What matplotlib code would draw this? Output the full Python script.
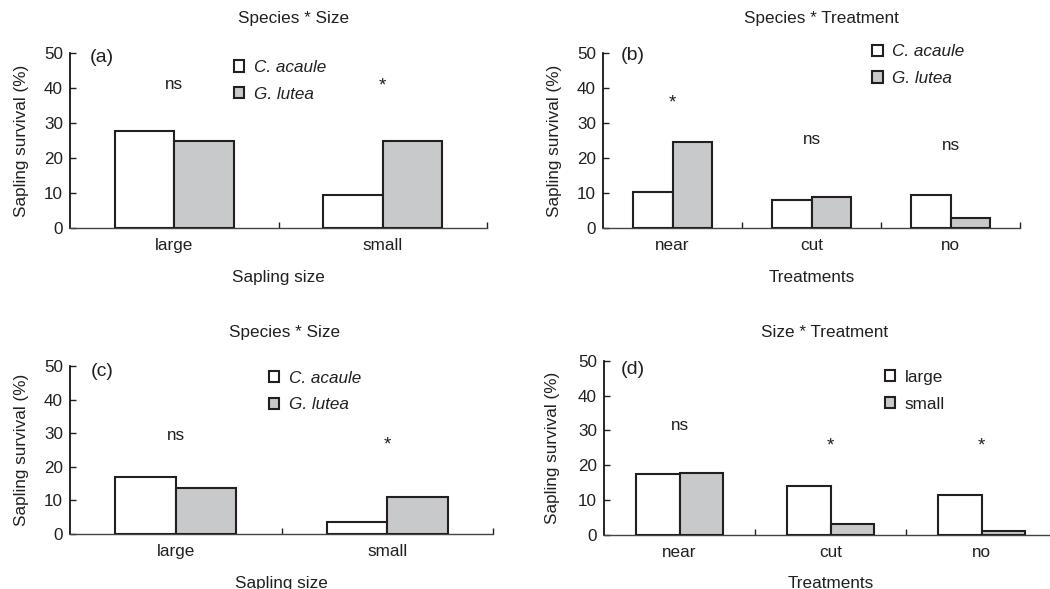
import numpy as np
import matplotlib
matplotlib.use('Agg')
import matplotlib.pyplot as plt
from matplotlib.patches import Patch

plt.rcParams['font.family'] = ['Liberation Sans', 'DejaVu Sans']
plt.rcParams['text.color'] = '#231f20'
plt.rcParams['axes.labelcolor'] = '#231f20'
plt.rcParams['xtick.color'] = '#231f20'
plt.rcParams['ytick.color'] = '#231f20'

# data
size_cats = ['large', 'small']
treat_cats = ['near', 'cut', 'no']
species = ['C. acaule', 'G. lutea']
sizes = ['large', 'small']

a_cacaule = [27.8, 9.4]
a_glutea = [25.0, 25.0]
a_sig = ['ns', '*']
a_sig_h = [40.9, 40.6]

b_cacaule = [10.2, 8.0, 9.4]
b_glutea = [24.7, 8.9, 3.0]
b_sig = ['*', 'ns', 'ns']
b_sig_h = [35.7, 25.4, 23.7]

c_cacaule = [17.0, 3.4]
c_glutea = [13.5, 10.9]
c_sig = ['ns', '*']
c_sig_h = [29.4, 26.4]

d_large = [17.4, 14.0, 11.5]
d_small = [17.7, 3.1, 1.1]
d_sig = ['ns', '*', '*']
d_sig_h = [31.5, 25.6, 25.6]

W, H = 1050, 589
fig = plt.figure(figsize=(W/100, H/100), dpi=100)
GREY = '#c8c9cb'
FS = 12.3
bw = 0.285


def panel(rect, cats, v1, v2, names, sig, sig_h, tag, title, title_xy,
          xlabel, xlab_y, tag_xy, leg_xy, italic):
    x0, ytop, x1, ybot = rect
    ax = fig.add_axes([x0/W, 1-ybot/H, (x1-x0)/W, (ybot-ytop)/H])
    x = np.arange(len(cats))
    ax.bar(x, v1, width=-bw, align='edge', color='white', edgecolor='#231f20', linewidth=1.5, label=names[0], zorder=3)
    ax.bar(x, v2, width=bw, align='edge', color=GREY, edgecolor='#231f20', linewidth=1.5, label=names[1], zorder=3)
    ax.set_xlim(-0.5, len(cats)-0.5)
    ax.set_ylim(0, 50)
    ax.set_yticks([0, 10, 20, 30, 40, 50])
    ax.set_xticks(x)
    ax.set_xticklabels(cats)
    ax.set_xticks(np.arange(len(cats))+0.5, minor=True)
    ax.tick_params(axis='x', which='major', length=0, pad=7.5, labelsize=FS)
    ax.tick_params(axis='x', which='minor', direction='in', length=4, width=1)
    ax.tick_params(axis='y', direction='in', length=4, width=1, pad=5, labelsize=FS)
    for s in ['top', 'right']:
        ax.spines[s].set_visible(False)
    ax.spines['left'].set_linewidth(1.2)
    ax.spines['bottom'].set_linewidth(1.0)
    ax.spines['bottom'].set_color('#444444')
    for xi, s, h in zip(x, sig, sig_h):
        ax.text(xi, h, s, ha='center', va='center', fontsize=FS if s != '*' else 13.5)
    ax.text(tag_xy[0], tag_xy[1], tag, transform=ax.transAxes, ha='center', va='center', fontsize=14)
    ax.text(title_xy[0], title_xy[1], title, transform=ax.transAxes, ha='center', va='center', fontsize=FS)
    ax.set_xlabel(xlabel, fontsize=FS)
    ax.xaxis.set_label_coords(0.5, xlab_y)
    ax.set_ylabel('Sapling survival (%)', fontsize=FS)
    ax.yaxis.set_label_coords(-0.098, 0.5)
    style = 'italic' if italic else 'normal'
    handles = [Patch(facecolor='white', edgecolor='#231f20', linewidth=1.5),
               Patch(facecolor=GREY, edgecolor='#231f20', linewidth=1.5)]
    ax.legend(handles, names, loc='upper left', bbox_to_anchor=leg_xy, frameon=False,
              handlelength=0.62, handleheight=0.62, handletextpad=0.55, labelspacing=0.69,
              borderpad=0, borderaxespad=0, prop={'size': FS, 'style': style})
    return ax


panel((70, 53, 487, 228), size_cats, a_cacaule, a_glutea, species, a_sig, a_sig_h,
      '(a)', 'Species * Size', (0.535, 1.2), 'Sapling size', -0.24, (0.077, 0.977), (0.393, 0.96), True)
panel((603, 53, 1020, 228), treat_cats, b_cacaule, b_glutea, species, b_sig, b_sig_h,
      '(b)', 'Species * Treatment', (0.525, 1.2), 'Treatments', -0.24, (0.072, 0.983), (0.645, 1.05), True)
panel((70, 366, 493, 533.7), size_cats, c_cacaule, c_glutea, species, c_sig, c_sig_h,
      '(c)', 'Species * Size', (0.508, 1.197), 'Sapling size', -0.252, (0.076, 0.97), (0.47, 0.972), True)
panel((604, 360.7, 1057, 535), treat_cats, d_large, d_small, sizes, d_sig, d_sig_h,
      '(d)', 'Size * Treatment', (0.486, 1.159), 'Treatments', -0.236, (0.064, 0.947), (0.62, 0.948), False)

fig.savefig('out.png', dpi=100)
